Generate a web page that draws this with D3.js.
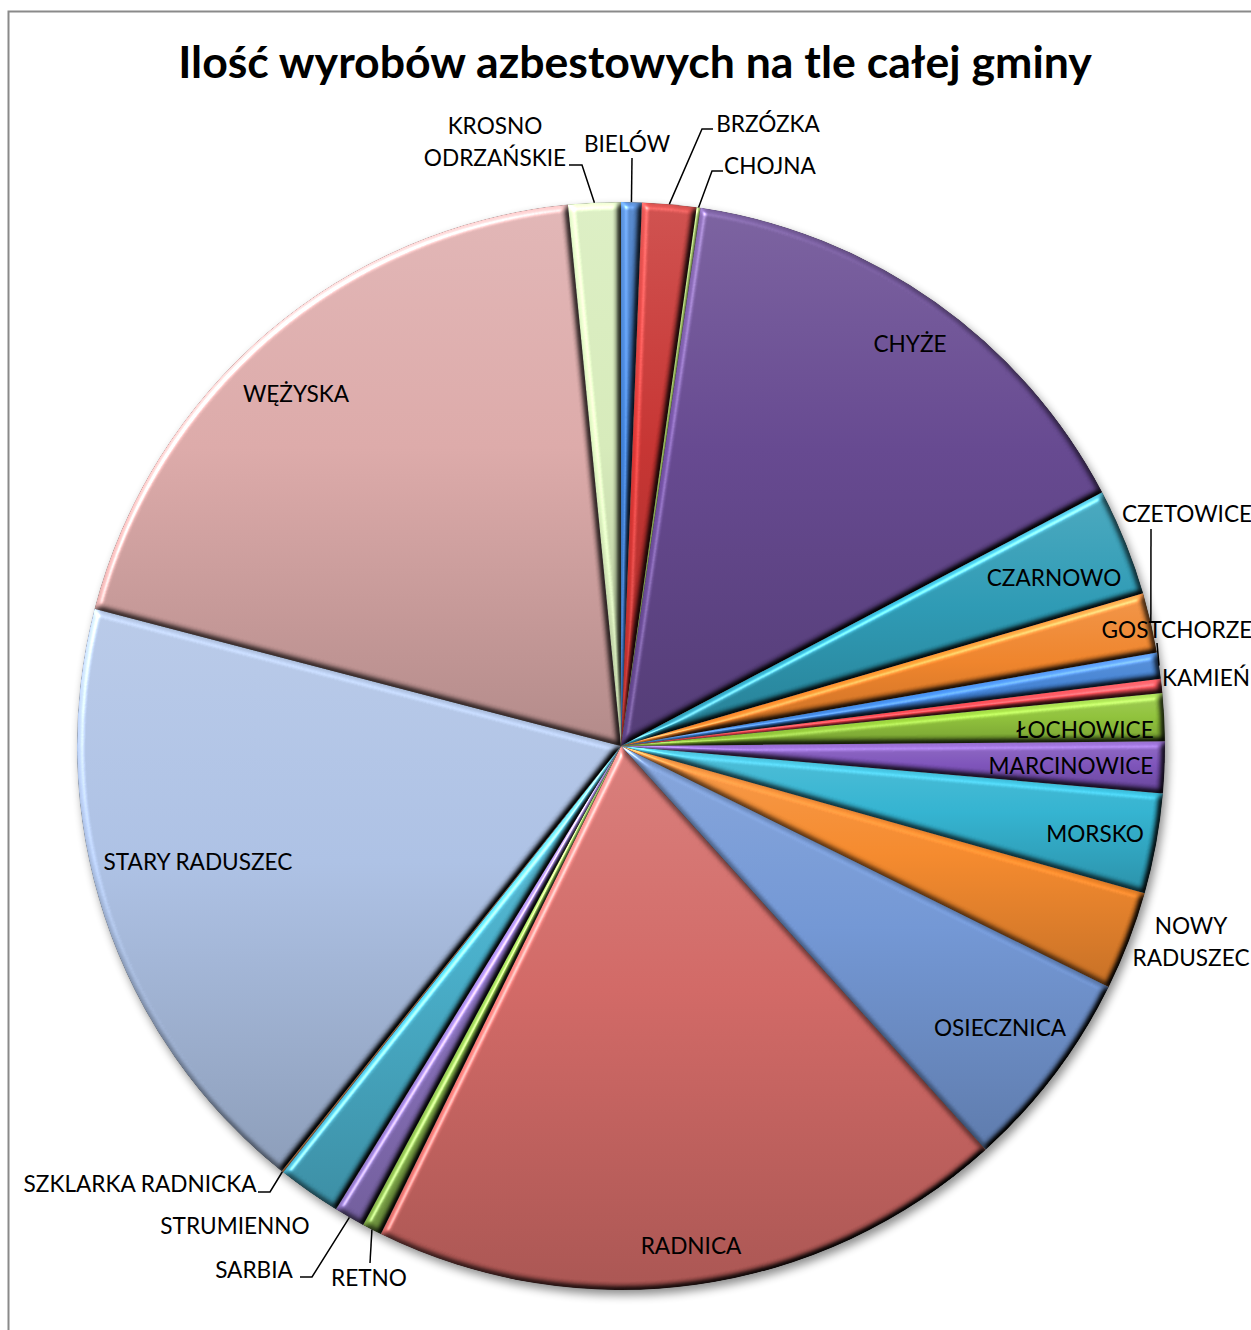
<!DOCTYPE html>
<html>
<head>
<meta charset="utf-8">
<script src="https://cdn.jsdelivr.net/npm/d3@7/dist/d3.min.js"></script>
<style>
  html, body { margin: 0; padding: 0; background: #fff; }
  svg { display: block; }
</style>
</head>
<body>
<svg id="chart" width="1251" height="1330"></svg>
<script>
// ---- data ----
const title = "Ilość wyrobów azbestowych na tle całej gminy";
const categories = [
  "BIELÓW", "BRZÓZKA", "CHOJNA", "CHYŻE", "CZARNOWO", "CZETOWICE", "GOSTCHORZE",
  "KAMIEŃ", "ŁOCHOWICE", "MARCINOWICE", "MORSKO", "NOWY RADUSZEC", "OSIECZNICA",
  "RADNICA", "RETNO", "SARBIA", "STRUMIENNO", "SZKLARKA RADNICKA", "STARY RADUSZEC",
  "WĘŻYSKA", "KROSNO ODRZAŃSKIE"
];
const values = [
  2.2, 5.8, 0.4, 53.8, 11.5, 6.4, 2.8,
  1.5, 5.1, 5.5, 10.7, 10.6, 21.6,
  68.3, 2.1, 3.3, 6.8, 0.2, 66.0,
  69.8, 5.6
];
const palette = [
  "#3a73c0", "#c2312f", "#8aaa50", "#62458c", "#2a96b0", "#ea8028", "#3c7cce",
  "#e63e46", "#8cbe38", "#7a50b6", "#30afcc", "#f0862a", "#6f93d0",
  "#cd6562", "#82ae48", "#8870bc", "#45abc6", "#a86a3a", "#a9bde0",
  "#d8a6a5", "#d2e6b6"
];

// ---- label layout (text centre x, centre y of each line; optional leader start/elbow) ----
const labelLayout = {
  "KROSNO ODRZAŃSKIE": { lines: ["KROSNO", "ODRZAŃSKIE"], x: 495, y: [125, 157], leader: [[569, 165], [582, 165]] },
  "BIELÓW": { x: 627, y: [143], leader: [[632, 158]] },
  "BRZÓZKA": { x: 768, y: [123], leader: [[713, 129], [702, 129]] },
  "CHOJNA": { x: 770, y: [165], leader: [[723, 171], [712, 171]] },
  "CHYŻE": { x: 910, y: [343] },
  "CZARNOWO": { x: 1054, y: [577] },
  "CZETOWICE": { x: 1187, y: [513], leader: [[1151, 529]] },
  "GOSTCHORZE": { x: 1177, y: [629], leader: [[1157, 643]] },
  "KAMIEŃ": { x: 1206, y: [677] },
  "ŁOCHOWICE": { x: 1085, y: [729] },
  "MARCINOWICE": { x: 1071, y: [765] },
  "MORSKO": { x: 1095, y: [833] },
  "NOWY RADUSZEC": { lines: ["NOWY", "RADUSZEC"], x: 1191, y: [925, 957] },
  "OSIECZNICA": { x: 1000, y: [1027] },
  "RADNICA": { x: 691, y: [1245] },
  "RETNO": { x: 369, y: [1277], leader: [[370, 1263]] },
  "SARBIA": { x: 254, y: [1269], leader: [[300, 1277], [312, 1277]] },
  "STRUMIENNO": { x: 235, y: [1225] },
  "SZKLARKA RADNICKA": { x: 140, y: [1183], leader: [[258, 1192], [270, 1192]] },
  "STARY RADUSZEC": { x: 198, y: [861] },
  "WĘŻYSKA": { x: 296, y: [393] }
};

const W = 1251, H = 1330;
const cx = 621, cy = 746, R = 544;
const FONT = "Lato, 'Open Sans', sans-serif";

const svg = d3.select("#chart");
const defs = svg.append("defs");

// frame (chart area border, cut by the window at right and bottom)
svg.append("rect")
  .attr("x", 8.5).attr("y", 11.5).attr("width", W + 20).attr("height", H + 20)
  .attr("fill", "#fff").attr("stroke", "#8a8a8a").attr("stroke-width", 2);

// title
const titleText = svg.append("text")
  .attr("x", 635).attr("y", 78)
  .attr("text-anchor", "middle")
  .attr("font-family", FONT).attr("font-weight", "bold")
  .attr("font-size", 40).attr("fill", "#000")
  .text(title);
{
  const w = titleText.node().getComputedTextLength();
  titleText.attr("font-size", 40 * 914 / w);
}

// shadow filter
const sh = defs.append("filter").attr("id", "shadow")
  .attr("x", "-10%").attr("y", "-10%").attr("width", "120%").attr("height", "120%");
sh.append("feGaussianBlur").attr("in", "SourceAlpha").attr("stdDeviation", 5).attr("result", "b");
sh.append("feOffset").attr("in", "b").attr("dx", 3).attr("dy", 5).attr("result", "o");
sh.append("feComponentTransfer").attr("in", "o")
  .append("feFuncA").attr("type", "linear").attr("slope", 0.45);

// bevel filter
const elev = 50;
const bv = defs.append("filter").attr("id", "bevel")
  .attr("color-interpolation-filters", "sRGB")
  .attr("x", "-5%").attr("y", "-5%").attr("width", "110%").attr("height", "110%");
bv.append("feGaussianBlur").attr("in", "SourceAlpha").attr("stdDeviation", 3).attr("result", "blur");
const dl = bv.append("feDiffuseLighting").attr("in", "blur").attr("surfaceScale", 5)
  .attr("diffuseConstant", 1).attr("lighting-color", "#fff").attr("result", "diff");
dl.append("feDistantLight").attr("azimuth", 225).attr("elevation", elev);
bv.append("feComposite").attr("in", "SourceGraphic").attr("in2", "diff")
  .attr("operator", "arithmetic").attr("k1", 1 / Math.sin(elev * Math.PI / 180))
  .attr("k2", 0).attr("k3", 0).attr("k4", 0)
  .attr("result", "lit");
const sl = bv.append("feSpecularLighting").attr("in", "blur").attr("surfaceScale", 5)
  .attr("specularConstant", 0.7).attr("specularExponent", 32)
  .attr("lighting-color", "#fff").attr("result", "spec");
sl.append("feDistantLight").attr("azimuth", 225).attr("elevation", 40);
bv.append("feComposite").attr("in", "spec").attr("in2", "SourceAlpha").attr("operator", "in").attr("result", "specIn");
bv.append("feComposite").attr("in", "lit").attr("in2", "specIn")
  .attr("operator", "arithmetic").attr("k1", 0).attr("k2", 1).attr("k3", 0.6).attr("k4", 0)
  .attr("result", "all");
bv.append("feComposite").attr("in", "all").attr("in2", "SourceAlpha").attr("operator", "in");

// gradients per slice
palette.forEach((c, i) => {
  const g = defs.append("linearGradient").attr("id", "grad" + i)
    .attr("x1", 0).attr("y1", 0).attr("x2", 0).attr("y2", 1);
  g.append("stop").attr("offset", "0%").attr("stop-color", d3.interpolateRgb(c, "#fff")(0.14));
  g.append("stop").attr("offset", "45%").attr("stop-color", c);
  g.append("stop").attr("offset", "100%").attr("stop-color", d3.rgb(c).darker(0.6));
});

const pie = d3.pie().sort(null).value(d => d).startAngle(0).endAngle(2 * Math.PI);
const arcs = pie(values);
const arc = d3.arc().innerRadius(0).outerRadius(R);

const g = svg.append("g").attr("transform", `translate(${cx},${cy})`);

// shadow disc
g.append("path")
  .attr("d", d3.arc().innerRadius(0).outerRadius(R)({ startAngle: 0, endAngle: 2 * Math.PI }))
  .attr("fill", "#000").attr("filter", "url(#shadow)");

g.selectAll("path.slice").data(arcs).join("path")
  .attr("class", "slice")
  .attr("d", arc)
  .attr("fill", (d, i) => `url(#grad${i})`)
  .attr("stroke", (d, i) => d3.rgb(palette[i]).darker(0.8))
  .attr("stroke-opacity", 0.35)
  .attr("stroke-width", 0.6)
  .attr("filter", "url(#bevel)");

// labels
const labelG = svg.append("g");
const probe = labelG.append("text").attr("font-family", FONT).attr("font-size", 20).text("STARY RADUSZEC");
const labelSize = 20 * 189 / probe.node().getComputedTextLength();
probe.remove();

arcs.forEach((a, i) => {
  const name = categories[i];
  const L = labelLayout[name];
  if (!L) return;
  const lines = L.lines || [name];
  lines.forEach((t, k) => {
    labelG.append("text")
      .attr("x", L.x).attr("y", L.y[k])
      .attr("text-anchor", "middle")
      .attr("dominant-baseline", "central")
      .attr("font-family", FONT).attr("font-size", labelSize)
      .attr("fill", "#000")
      .text(t);
  });
  if (L.leader) {
    const mid = (a.startAngle + a.endAngle) / 2;
    const end = [cx + R * Math.sin(mid), cy - R * Math.cos(mid)];
    const pts = L.leader.concat([end]);
    labelG.append("path")
      .attr("d", d3.line()(pts))
      .attr("fill", "none").attr("stroke", "#000").attr("stroke-width", 1.5);
  }
});
</script>
</body>
</html>
